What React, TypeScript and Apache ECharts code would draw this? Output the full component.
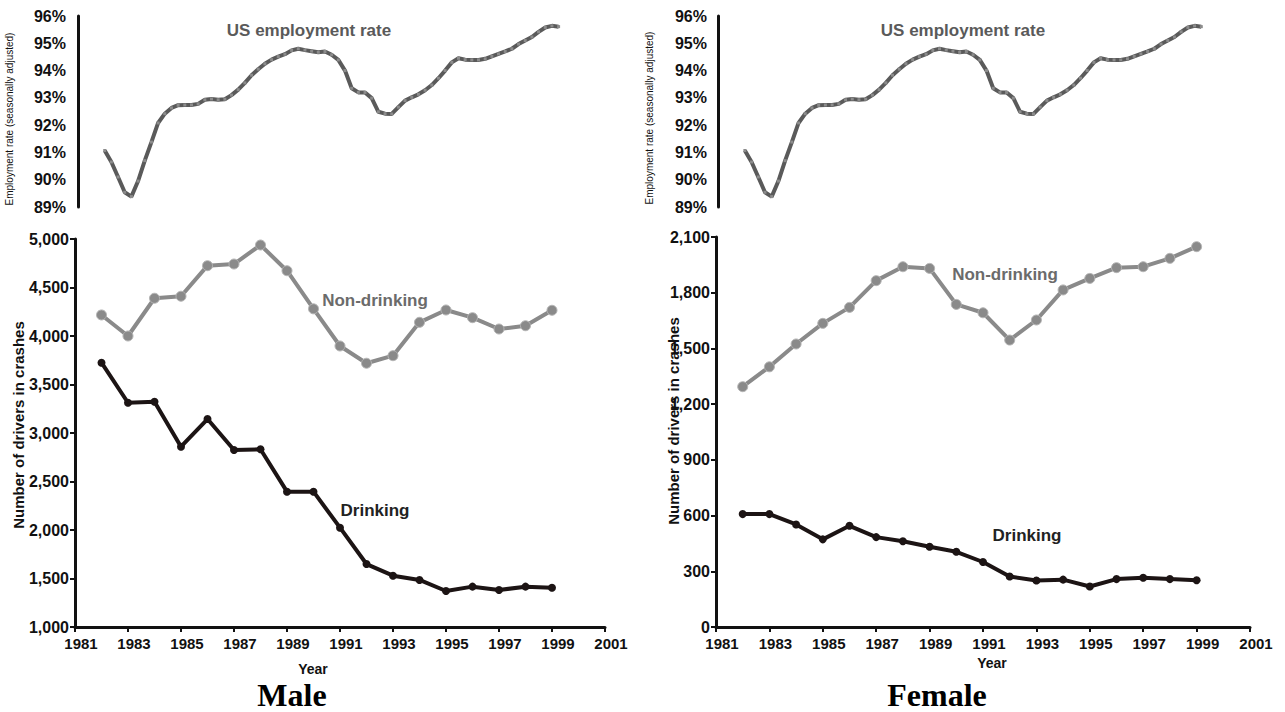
import React, { useEffect, useRef } from "react";
import * as echarts from "echarts";

// ---------- data ----------
const BASE_YEAR = 1981;
const years = [1982, 1983, 1984, 1985, 1986, 1987, 1988, 1989, 1990, 1991, 1992, 1993, 1994, 1995, 1996, 1997, 1998, 1999];

const maleDrinking = [3725, 3312, 3323, 2859, 3144, 2825, 2832, 2395, 2395, 2024, 1649, 1529, 1485, 1371, 1416, 1381, 1416, 1405];
const maleNonDrinking = [4217, 4000, 4389, 4410, 4725, 4742, 4938, 4673, 4280, 3897, 3719, 3797, 4141, 4268, 4189, 4072, 4106, 4265];

const femaleDrinking = [608, 608, 552, 472, 545, 484, 462, 432, 405, 350, 272, 250, 255, 218, 258, 265, 258, 252];
const femaleNonDrinking = [1294, 1401, 1524, 1635, 1721, 1865, 1940, 1931, 1737, 1692, 1545, 1653, 1815, 1877, 1935, 1940, 1985, 2048];

// quarterly US employment rate (%), from 1982 Q1 to 1999 Q1
const employmentStartYear = 1982;
const quartersPerYear = 4;
const employmentRate = [
  91.07, 90.65, 90.1, 89.54, 89.38, 89.95, 90.7, 91.38, 92.08, 92.42,
  92.63, 92.73, 92.74, 92.74, 92.78, 92.93, 92.96, 92.93, 92.95, 93.1,
  93.3, 93.55, 93.83, 94.05, 94.25, 94.4, 94.51, 94.6, 94.74, 94.8,
  94.75, 94.71, 94.67, 94.7, 94.58, 94.39, 94.0, 93.35, 93.2, 93.2,
  92.99, 92.49, 92.42, 92.41, 92.66, 92.9, 93.02, 93.13, 93.28, 93.47,
  93.72, 94.0, 94.3, 94.45, 94.4, 94.39, 94.39, 94.43, 94.52, 94.61,
  94.7, 94.8, 94.97, 95.1, 95.23, 95.42, 95.58, 95.64, 95.61,
];

const empAxis = { min: 89, max: 96, interval: 1 };
const maleAxis = { min: 1000, max: 5000, interval: 500 };
const femaleAxis = { min: 0, max: 2100, interval: 300 };
const yearAxis = { min: 1981, max: 2001, interval: 2 };

// ---------- styles ----------
const SANS = "'Liberation Sans', Arial, sans-serif";
const SERIF = "'Liberation Serif', 'Times New Roman', serif";
const INK = "#111111";
const EMP_COLOR = "#5a5a5a";
const NON_COLOR = "#8a8a8a";
const DRK_COLOR = "#1c1414";

export default function App() {
  const ref = useRef<HTMLDivElement>(null);

  useEffect(() => {
    document.body.style.margin = "0";
    const chart = echarts.init(ref.current as HTMLDivElement, null, { renderer: "svg" });

    const empData = employmentRate.map((v, i) => [employmentStartYear + i / quartersPerYear - BASE_YEAR, v]);
    const pair = (vals: number[]) => years.map((y, i) => [y - BASE_YEAR, vals[i]]);

    const tickLabel = { color: INK, fontFamily: SANS, fontWeight: "bold" as const, fontSize: 15 };

    const xBottom = (gridIndex: number) => ({
      type: "value" as const,
      gridIndex,
      min: yearAxis.min - BASE_YEAR,
      max: yearAxis.max - BASE_YEAR,
      interval: yearAxis.interval,
      axisLine: { show: true, lineStyle: { color: INK, width: 3 } },
      axisTick: { show: true, length: 5, lineStyle: { color: INK, width: 2 } },
      axisLabel: { ...tickLabel, margin: 9, padding: [0, 0, 0, 12], formatter: (v: number) => String(v + BASE_YEAR) },
      splitLine: { show: false },
    });
    const xTop = (gridIndex: number) => ({
      type: "value" as const,
      gridIndex,
      min: yearAxis.min - BASE_YEAR,
      max: yearAxis.max - BASE_YEAR,
      show: false,
    });
    const yAxisOf = (gridIndex: number, ax: { min: number; max: number; interval: number }, fmt: (v: number) => string, ticks: boolean, offset: number) => ({
      type: "value" as const,
      gridIndex,
      min: ax.min,
      max: ax.max,
      interval: ax.interval,
      offset,
      axisLine: { show: true, lineStyle: { color: INK, width: 3 } },
      axisTick: { show: ticks, length: 5, lineStyle: { color: INK, width: 2 } },
      axisLabel: { ...tickLabel, fontSize: 16, margin: ticks ? 6 : 9, formatter: fmt },
      splitLine: { show: false },
    });

    const pct = (v: number) => `${v}%`;
    const num = (v: number) => v.toLocaleString("en-US");

    const empSeries = (idx: number) => ({
      type: "line" as const,
      xAxisIndex: idx,
      yAxisIndex: idx,
      data: empData,
      symbol: "rect",
      symbolSize: 3,
      lineStyle: { color: EMP_COLOR, width: 4 },
      itemStyle: { color: "#8c8c8c" },
      silent: true,
    });
    const nonSeries = (idx: number, vals: number[]) => ({
      type: "line" as const,
      xAxisIndex: idx,
      yAxisIndex: idx,
      data: pair(vals),
      symbol: "circle",
      symbolSize: 10,
      lineStyle: { color: NON_COLOR, width: 4 },
      itemStyle: { color: NON_COLOR, borderColor: "#b4b4b4", borderWidth: 1 },
      silent: true,
    });
    const drkSeries = (idx: number, vals: number[]) => ({
      type: "line" as const,
      xAxisIndex: idx,
      yAxisIndex: idx,
      data: pair(vals),
      symbol: "circle",
      symbolSize: 8,
      lineStyle: { color: DRK_COLOR, width: 4 },
      itemStyle: { color: DRK_COLOR },
      silent: true,
    });

    const label = (text: string, x: number, y: number, color: string, size: number, weight = "bold", family = SANS, rotation = 0) => ({
      type: "text" as const,
      x,
      y,
      rotation,
      silent: true,
      style: {
        text,
        fill: color,
        font: `${weight} ${size}px ${family}`,
        align: "center",
        verticalAlign: "middle",
      },
    });

    const option = {
      animation: false,
      backgroundColor: "#ffffff",
      grid: [
        { left: 78, top: 16, width: 534, height: 191 },
        { left: 718, top: 16, width: 537, height: 191 },
        { left: 75, top: 239, width: 530, height: 388 },
        { left: 716, top: 237, width: 534, height: 390 },
      ],
      xAxis: [xTop(0), xTop(1), xBottom(2), xBottom(3)],
      yAxis: [
        yAxisOf(0, empAxis, pct, false, 3),
        yAxisOf(1, empAxis, pct, false, 2),
        yAxisOf(2, maleAxis, num, true, 0),
        yAxisOf(3, femaleAxis, num, true, 0),
      ],
      series: [
        empSeries(0),
        empSeries(1),
        nonSeries(2, maleNonDrinking),
        drkSeries(2, maleDrinking),
        nonSeries(3, femaleNonDrinking),
        drkSeries(3, femaleDrinking),
      ],
      graphic: [
        label("US employment rate", 309, 30, EMP_COLOR, 17),
        label("US employment rate", 963, 30, EMP_COLOR, 17),
        label("Non-drinking", 375, 300, "#6b6b6b", 17),
        label("Non-drinking", 1005, 274, "#6b6b6b", 17),
        label("Drinking", 375, 510, "#222222", 17),
        label("Drinking", 1027, 535, "#222222", 17),
        label("Employment rate (seasonally adjusted)", 9, 119, INK, 10, "normal", SANS, Math.PI / 2),
        label("Employment rate (seasonally adjusted)", 649, 118, INK, 10, "normal", SANS, Math.PI / 2),
        label("Number of drivers in crashes", 18, 425, INK, 15, "bold", SANS, Math.PI / 2),
        label("Number of drivers in crashes", 673, 421, INK, 15, "bold", SANS, Math.PI / 2),
        label("Year", 313, 669, INK, 14),
        label("Year", 992, 663, INK, 14),
        label("Male", 292, 695, "#000000", 32, "bold", SERIF),
        label("Female", 937, 695, "#000000", 32, "bold", SERIF),
      ],
    };

    chart.setOption(option as any);
    return () => chart.dispose();
  }, []);

  return <div ref={ref} style={{ width: 1285, height: 712 }} />;
}
